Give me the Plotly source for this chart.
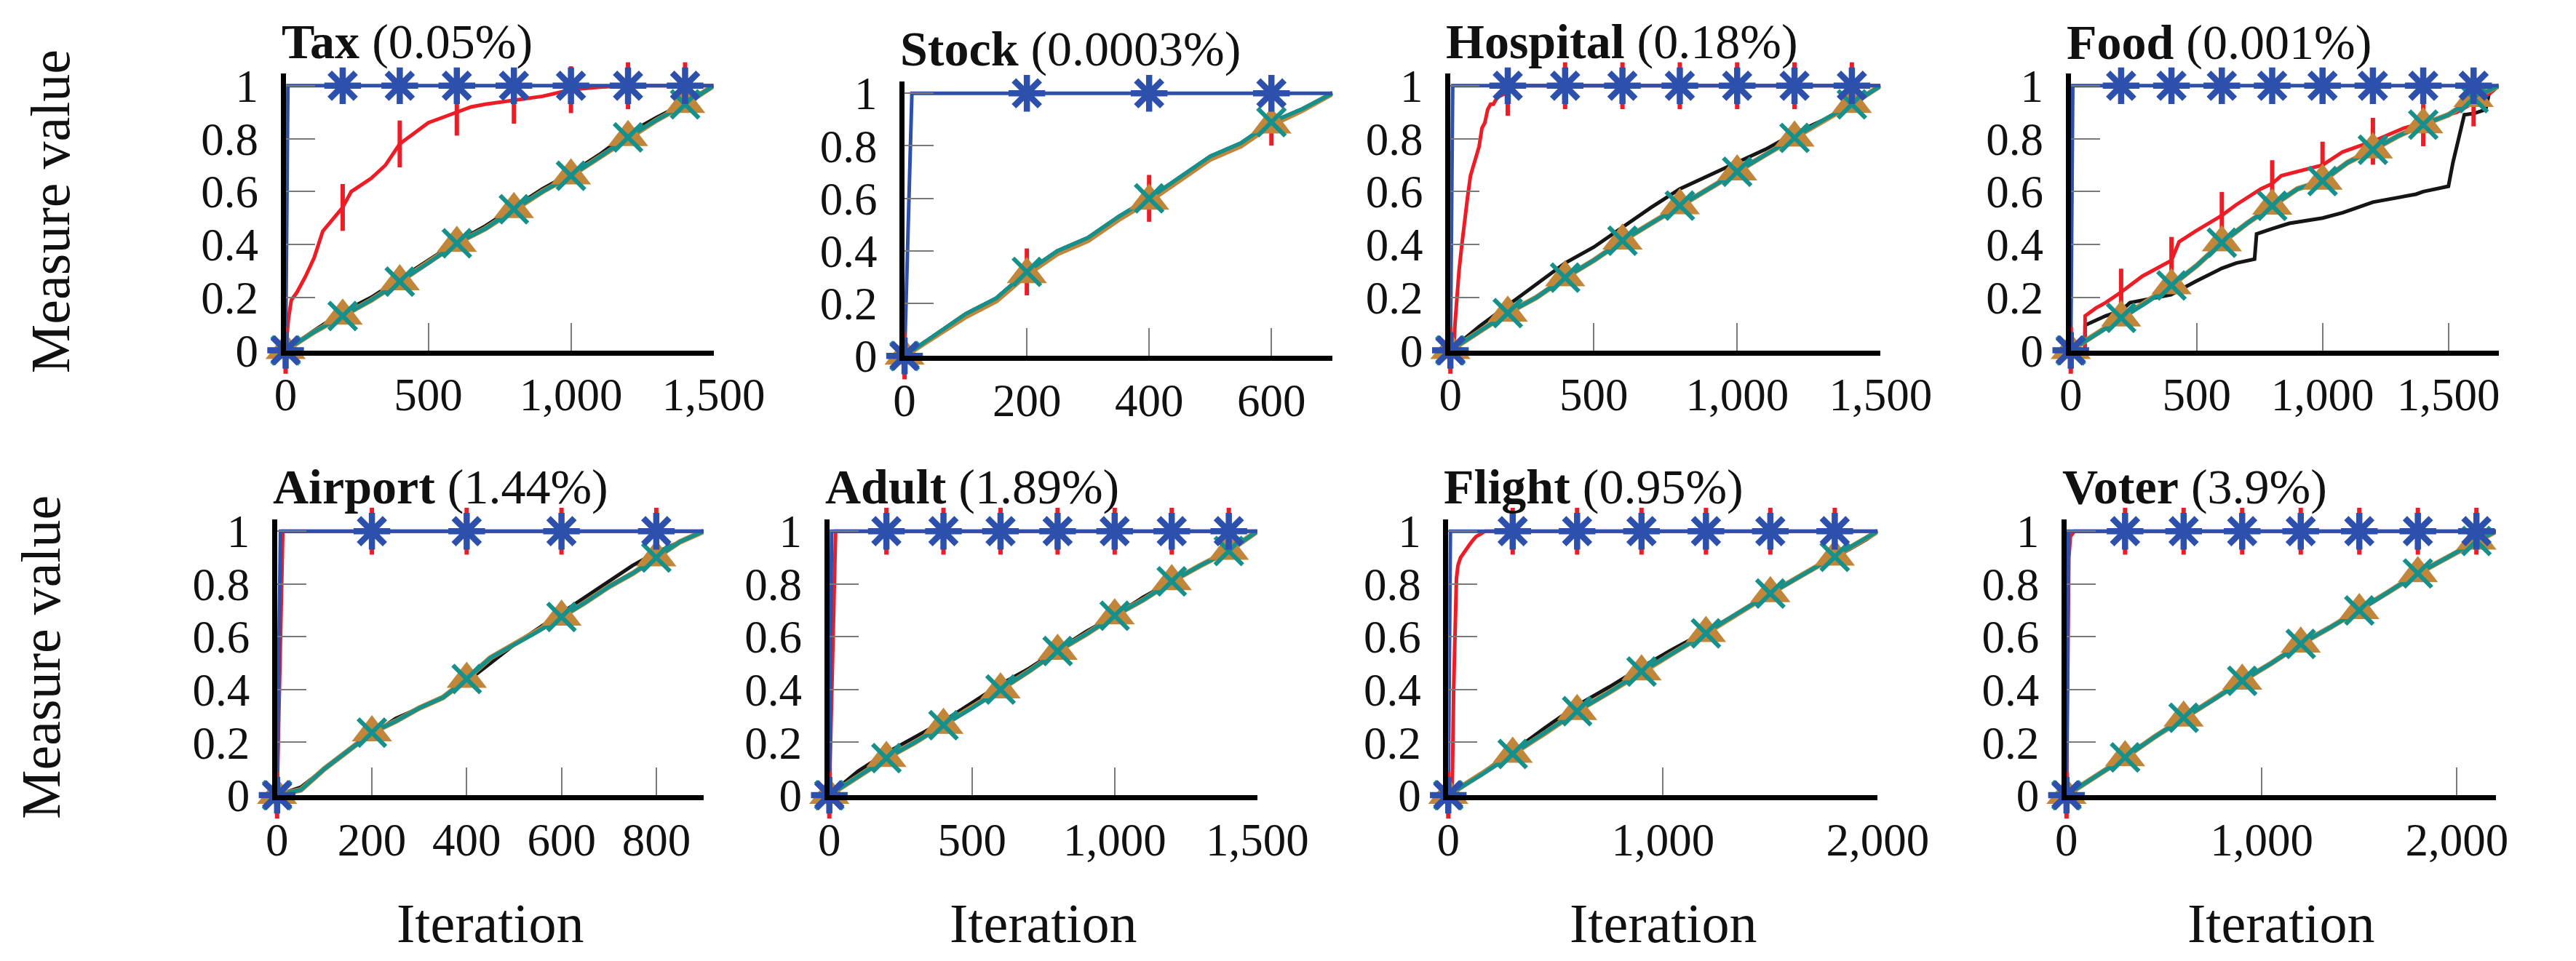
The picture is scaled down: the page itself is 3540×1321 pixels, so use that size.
import plotly.graph_objects as go

W, H = 3540, 1321
FONT = "Liberation Serif"

BLUE = "#2d50ad"
RED = "#ee1c25"
BLACK = "#151515"
ORANGE = "#c1863a"
TEAL = "#16908a"

# ---------------- panel meta ----------------
names = ["Tax", "Stock", "Hospital", "Food", "Airport", "Adult", "Flight", "Voter"]
rates = ["(0.05%)", "(0.0003%)", "(0.18%)", "(0.001%)", "(1.44%)", "(1.89%)", "(0.95%)", "(3.9%)"]
x_max = [1500, 700, 1500, 1700, 900, 1500, 2000, 2200]

y_ticks = [0, 0.2, 0.4, 0.6, 0.8, 1]
y_tick_text = ["0", "0.2", "0.4", "0.6", "0.8", "1"]

tax_ticks = [0, 500, 1000, 1500]
tax_tick_text = ["0", "500", "1,000", "1,500"]
stock_ticks = [0, 200, 400, 600]
stock_tick_text = ["0", "200", "400", "600"]
hospital_ticks = [0, 500, 1000, 1500]
hospital_tick_text = ["0", "500", "1,000", "1,500"]
food_ticks = [0, 500, 1000, 1500]
food_tick_text = ["0", "500", "1,000", "1,500"]
airport_ticks = [0, 200, 400, 600, 800]
airport_tick_text = ["0", "200", "400", "600", "800"]
adult_ticks = [0, 500, 1000, 1500]
adult_tick_text = ["0", "500", "1,000", "1,500"]
flight_ticks = [0, 1000, 2000]
flight_tick_text = ["0", "1,000", "2,000"]
voter_ticks = [0, 1000, 2000]
voter_tick_text = ["0", "1,000", "2,000"]

# marker positions (iterations)
tax_marks = [0, 200, 400, 600, 800, 1000, 1200, 1400]
stock_marks = [0, 200, 400, 600]
hospital_marks = [0, 200, 400, 600, 800, 1000, 1200, 1400]
food_marks = [0, 200, 400, 600, 800, 1000, 1200, 1400, 1600]
airport_marks = [0, 200, 400, 600, 800]
adult_marks = [0, 200, 400, 600, 800, 1000, 1200, 1400]
flight_marks = [0, 300, 600, 900, 1200, 1500, 1800]
voter_marks = [0, 300, 600, 900, 1200, 1500, 1800, 2100]

# ---------------- Tax ----------------
tax_blue_x = [0, 8, 200, 400, 600, 800, 1000, 1200, 1400, 1500]
tax_blue_y = [0, 1, 1, 1, 1, 1, 1, 1, 1, 1]
tax_red_x = [0, 10, 20, 40, 70, 100, 130, 160, 200, 230, 260, 300, 350, 400, 450, 500, 550,
             600, 650, 700, 800, 900, 1000, 1100, 1200, 1300, 1400, 1500]
tax_red_y = [0, 0.12, 0.19, 0.22, 0.28, 0.35, 0.45, 0.49, 0.54, 0.6, 0.62, 0.65, 0.7, 0.78,
             0.82, 0.86, 0.88, 0.9, 0.92, 0.93, 0.945, 0.96, 0.985, 0.995, 1.0, 1.0, 1.0, 1.0]
tax_black_x = [0, 100, 200, 300, 400, 500, 600, 700, 800, 900, 1000, 1100, 1200, 1300, 1400, 1500]
tax_black_y = [0, 0.075, 0.145, 0.2, 0.27, 0.34, 0.41, 0.47, 0.54, 0.61, 0.67, 0.74, 0.82, 0.88, 0.935, 1.0]
tax_orange_x = [0, 100, 200, 300, 400, 500, 600, 700, 800, 900, 1000, 1100, 1200, 1300, 1400, 1500]
tax_orange_y = [0, 0.07, 0.13, 0.19, 0.26, 0.33, 0.405, 0.46, 0.533, 0.6, 0.66, 0.73, 0.805, 0.87, 0.93, 1.0]
tax_teal_x = [0, 100, 200, 300, 400, 500, 600, 700, 800, 900, 1000, 1100, 1200, 1300, 1400, 1500]
tax_teal_y = [0, 0.07, 0.13, 0.19, 0.26, 0.33, 0.405, 0.46, 0.533, 0.6, 0.66, 0.73, 0.805, 0.87, 0.93, 1.0]

# ---------------- Stock ----------------
stock_blue_x = [0, 12, 200, 400, 600, 700]
stock_blue_y = [0, 1, 1, 1, 1, 1]
stock_red_x = [0, 50, 100, 150, 200, 250, 300, 350, 400, 450, 500, 550, 600, 650, 700]
stock_red_y = [0, 0.08, 0.16, 0.22, 0.32, 0.4, 0.45, 0.53, 0.6, 0.68, 0.76, 0.81, 0.89, 0.94, 1.0]
stock_black_x = [0, 50, 100, 150, 200, 250, 300, 350, 400, 450, 500, 550, 600, 650, 700]
stock_black_y = [0, 0.08, 0.16, 0.22, 0.32, 0.4, 0.45, 0.53, 0.6, 0.68, 0.76, 0.81, 0.89, 0.94, 1.0]
stock_orange_x = [0, 50, 100, 150, 200, 250, 300, 350, 400, 450, 500, 550, 600, 650, 700]
stock_orange_y = [0, 0.075, 0.15, 0.21, 0.31, 0.39, 0.44, 0.52, 0.59, 0.67, 0.75, 0.8, 0.88, 0.935, 1.0]
stock_teal_x = [0, 50, 100, 150, 200, 250, 300, 350, 400, 450, 500, 550, 600, 650, 700]
stock_teal_y = [0, 0.08, 0.16, 0.22, 0.32, 0.4, 0.45, 0.53, 0.6, 0.68, 0.76, 0.81, 0.89, 0.94, 1.0]

# ---------------- Hospital ----------------
hospital_blue_x = [0, 8, 200, 400, 600, 800, 1000, 1200, 1400, 1500]
hospital_blue_y = [0, 1, 1, 1, 1, 1, 1, 1, 1, 1]
hospital_red_x = [0, 12, 16, 20, 30, 40, 50, 60, 70, 80, 90, 100, 110, 120, 130, 140, 150, 160,
                  170, 180, 200, 220, 400, 600, 800, 1000, 1200, 1400, 1500]
hospital_red_y = [0, 0.0, 0.1, 0.17, 0.3, 0.4, 0.5, 0.58, 0.66, 0.7, 0.74, 0.77, 0.84, 0.86,
                  0.91, 0.93, 0.93, 0.95, 0.96, 0.965, 0.975, 1.0, 1, 1, 1, 1, 1, 1, 1]
hospital_black_x = [0, 100, 200, 300, 400, 500, 600, 700, 800, 900, 1000, 1100, 1200, 1300, 1400, 1500]
hospital_black_y = [0, 0.09, 0.17, 0.25, 0.33, 0.39, 0.465, 0.54, 0.61, 0.66, 0.71, 0.76, 0.82, 0.87, 0.93, 1.0]
hospital_orange_x = [0, 100, 200, 300, 400, 500, 600, 700, 800, 900, 1000, 1100, 1200, 1300, 1400, 1500]
hospital_orange_y = [0, 0.07, 0.141, 0.2, 0.275, 0.34, 0.414, 0.48, 0.547, 0.61, 0.675, 0.74, 0.803, 0.87, 0.93, 1.0]
hospital_teal_x = [0, 100, 200, 300, 400, 500, 600, 700, 800, 900, 1000, 1100, 1200, 1300, 1400, 1500]
hospital_teal_y = [0, 0.07, 0.141, 0.2, 0.275, 0.34, 0.414, 0.48, 0.547, 0.61, 0.675, 0.74, 0.803, 0.87, 0.93, 1.0]

# ---------------- Food ----------------
food_blue_x = [0, 8, 200, 400, 600, 800, 1000, 1200, 1400, 1600, 1700]
food_blue_y = [0, 1, 1, 1, 1, 1, 1, 1, 1, 1, 1]
food_red_x = [0, 56, 57, 100, 138, 200, 284, 365, 400, 430, 495, 600, 657, 755, 800, 836,
              1000, 1080, 1200, 1323, 1400, 1534, 1600, 1664, 1700]
food_red_y = [0, 0.0, 0.13, 0.16, 0.18, 0.22, 0.28, 0.32, 0.34, 0.41, 0.45, 0.51, 0.55, 0.61,
              0.63, 0.66, 0.70, 0.75, 0.79, 0.84, 0.86, 0.90, 0.935, 0.97, 1.0]
food_black_x = [0, 56, 57, 138, 200, 235, 398, 495, 600, 657, 730, 738, 800, 868, 1000, 1080,
                1200, 1371, 1400, 1500, 1518, 1542, 1563, 1600, 1648, 1661, 1700]
food_black_y = [0, 0.0, 0.095, 0.13, 0.15, 0.18, 0.21, 0.26, 0.31, 0.33, 0.345, 0.44, 0.46,
                0.48, 0.50, 0.52, 0.56, 0.59, 0.60, 0.62, 0.71, 0.80, 0.89, 0.895, 0.91, 0.97, 1.0]
food_orange_x = [0, 100, 200, 300, 400, 500, 600, 700, 800, 900, 1000, 1100, 1200, 1300, 1400, 1500, 1600, 1700]
food_orange_y = [0, 0.06, 0.123, 0.18, 0.245, 0.32, 0.407, 0.48, 0.546, 0.61, 0.64, 0.71, 0.758, 0.81, 0.853, 0.89, 0.953, 1.0]
food_teal_x = [0, 100, 200, 300, 400, 500, 600, 700, 800, 900, 1000, 1100, 1200, 1300, 1400, 1500, 1600, 1700]
food_teal_y = [0, 0.06, 0.123, 0.18, 0.245, 0.32, 0.407, 0.48, 0.546, 0.61, 0.64, 0.71, 0.758, 0.81, 0.853, 0.89, 0.953, 1.0]

# ---------------- Airport ----------------
airport_blue_x = [0, 7, 200, 400, 600, 800, 900]
airport_blue_y = [0, 1, 1, 1, 1, 1, 1]
airport_red_x = [0, 12, 200, 400, 600, 800, 900]
airport_red_y = [0, 1, 1, 1, 1, 1, 1]
airport_black_x = [0, 50, 100, 150, 200, 250, 300, 350, 400, 450, 500, 550, 600, 650, 700, 750, 800, 850, 900]
airport_black_y = [0, 0.03, 0.1, 0.17, 0.23, 0.29, 0.33, 0.37, 0.43, 0.5, 0.57, 0.63, 0.69, 0.75, 0.81, 0.87, 0.92, 0.96, 1.0]
airport_orange_x = [0, 50, 100, 150, 200, 250, 300, 350, 400, 450, 500, 550, 600, 650, 700, 750, 800, 850, 900]
airport_orange_y = [0, 0.02, 0.1, 0.17, 0.237, 0.28, 0.33, 0.37, 0.44, 0.52, 0.57, 0.62, 0.675, 0.73, 0.79, 0.84, 0.9, 0.96, 1.0]
airport_teal_x = [0, 50, 100, 150, 200, 250, 300, 350, 400, 450, 500, 550, 600, 650, 700, 750, 800, 850, 900]
airport_teal_y = [0, 0.02, 0.1, 0.17, 0.237, 0.28, 0.33, 0.37, 0.44, 0.52, 0.57, 0.62, 0.675, 0.73, 0.79, 0.84, 0.9, 0.96, 1.0]

# ---------------- Adult ----------------
adult_blue_x = [0, 8, 200, 400, 600, 800, 1000, 1200, 1400, 1500]
adult_blue_y = [0, 1, 1, 1, 1, 1, 1, 1, 1, 1]
adult_red_x = [0, 22, 200, 400, 600, 800, 1000, 1200, 1400, 1500]
adult_red_y = [0, 1, 1, 1, 1, 1, 1, 1, 1, 1]
adult_black_x = [0, 100, 200, 300, 400, 500, 600, 700, 800, 900, 1000, 1100, 1200, 1300, 1400, 1500]
adult_black_y = [0, 0.09, 0.16, 0.22, 0.28, 0.35, 0.42, 0.48, 0.55, 0.62, 0.68, 0.75, 0.81, 0.87, 0.93, 1.0]
adult_orange_x = [0, 100, 200, 300, 400, 500, 600, 700, 800, 900, 1000, 1100, 1200, 1300, 1400, 1500]
adult_orange_y = [0, 0.07, 0.14, 0.2, 0.265, 0.33, 0.4, 0.47, 0.546, 0.61, 0.68, 0.74, 0.81, 0.87, 0.925, 1.0]
adult_teal_x = [0, 100, 200, 300, 400, 500, 600, 700, 800, 900, 1000, 1100, 1200, 1300, 1400, 1500]
adult_teal_y = [0, 0.07, 0.14, 0.2, 0.265, 0.33, 0.4, 0.47, 0.546, 0.61, 0.68, 0.74, 0.81, 0.87, 0.925, 1.0]

# ---------------- Flight ----------------
flight_blue_x = [0, 10, 300, 600, 900, 1200, 1500, 1800, 2000]
flight_blue_y = [0, 1, 1, 1, 1, 1, 1, 1, 1]
flight_red_x = [0, 18, 25, 30, 38, 45, 57, 70, 85, 100, 114, 130, 152, 171, 300, 600, 900, 1200, 1500, 1800, 2000]
flight_red_y = [0, 0.0, 0.4, 0.6, 0.82, 0.87, 0.9, 0.915, 0.93, 0.95, 0.965, 0.98, 0.99, 1.0, 1, 1, 1, 1, 1, 1, 1]
flight_black_x = [0, 150, 300, 450, 600, 750, 900, 1050, 1200, 1350, 1500, 1650, 1800, 1950, 2000]
flight_black_y = [0, 0.08, 0.165, 0.255, 0.34, 0.41, 0.485, 0.555, 0.62, 0.69, 0.765, 0.835, 0.9, 0.97, 1.0]
flight_orange_x = [0, 150, 300, 450, 600, 750, 900, 1050, 1200, 1350, 1500, 1650, 1800, 1950, 2000]
flight_orange_y = [0, 0.075, 0.156, 0.235, 0.318, 0.39, 0.468, 0.54, 0.613, 0.69, 0.764, 0.835, 0.903, 0.975, 1.0]
flight_teal_x = [0, 150, 300, 450, 600, 750, 900, 1050, 1200, 1350, 1500, 1650, 1800, 1950, 2000]
flight_teal_y = [0, 0.075, 0.156, 0.235, 0.318, 0.39, 0.468, 0.54, 0.613, 0.69, 0.764, 0.835, 0.903, 0.975, 1.0]

# ---------------- Voter ----------------
voter_blue_x = [0, 10, 300, 600, 900, 1200, 1500, 1800, 2100, 2200]
voter_blue_y = [0, 1, 1, 1, 1, 1, 1, 1, 1, 1]
voter_red_x = [0, 12, 20, 40, 300, 600, 900, 1200, 1500, 1800, 2100, 2200]
voter_red_y = [0, 0.9, 0.98, 1.0, 1, 1, 1, 1, 1, 1, 1, 1]
voter_black_x = [0, 150, 300, 450, 600, 750, 900, 1050, 1200, 1350, 1500, 1650, 1800, 1950, 2100, 2200]
voter_black_y = [0, 0.07, 0.145, 0.22, 0.29, 0.36, 0.43, 0.5, 0.57, 0.635, 0.70, 0.77, 0.835, 0.9, 0.96, 1.0]
voter_orange_x = [0, 150, 300, 450, 600, 750, 900, 1050, 1200, 1350, 1500, 1650, 1800, 1950, 2100, 2200]
voter_orange_y = [0, 0.07, 0.143, 0.22, 0.293, 0.36, 0.433, 0.5, 0.573, 0.635, 0.70, 0.77, 0.84, 0.9, 0.963, 1.0]
voter_teal_x = [0, 150, 300, 450, 600, 750, 900, 1050, 1200, 1350, 1500, 1650, 1800, 1950, 2100, 2200]
voter_teal_y = [0, 0.07, 0.143, 0.22, 0.293, 0.36, 0.433, 0.5, 0.573, 0.635, 0.70, 0.77, 0.84, 0.9, 0.963, 1.0]

# ---------------- assemble ----------------
panels = [
    dict(ticks=tax_ticks, tt=tax_tick_text, marks=tax_marks,
         blue=(tax_blue_x, tax_blue_y), red=(tax_red_x, tax_red_y), black=(tax_black_x, tax_black_y),
         orange=(tax_orange_x, tax_orange_y), teal=(tax_teal_x, tax_teal_y)),
    dict(ticks=stock_ticks, tt=stock_tick_text, marks=stock_marks,
         blue=(stock_blue_x, stock_blue_y), red=(stock_red_x, stock_red_y), black=(stock_black_x, stock_black_y),
         orange=(stock_orange_x, stock_orange_y), teal=(stock_teal_x, stock_teal_y)),
    dict(ticks=hospital_ticks, tt=hospital_tick_text, marks=hospital_marks,
         blue=(hospital_blue_x, hospital_blue_y), red=(hospital_red_x, hospital_red_y),
         black=(hospital_black_x, hospital_black_y), orange=(hospital_orange_x, hospital_orange_y),
         teal=(hospital_teal_x, hospital_teal_y)),
    dict(ticks=food_ticks, tt=food_tick_text, marks=food_marks,
         blue=(food_blue_x, food_blue_y), red=(food_red_x, food_red_y), black=(food_black_x, food_black_y),
         orange=(food_orange_x, food_orange_y), teal=(food_teal_x, food_teal_y)),
    dict(ticks=airport_ticks, tt=airport_tick_text, marks=airport_marks,
         blue=(airport_blue_x, airport_blue_y), red=(airport_red_x, airport_red_y),
         black=(airport_black_x, airport_black_y), orange=(airport_orange_x, airport_orange_y),
         teal=(airport_teal_x, airport_teal_y)),
    dict(ticks=adult_ticks, tt=adult_tick_text, marks=adult_marks,
         blue=(adult_blue_x, adult_blue_y), red=(adult_red_x, adult_red_y), black=(adult_black_x, adult_black_y),
         orange=(adult_orange_x, adult_orange_y), teal=(adult_teal_x, adult_teal_y)),
    dict(ticks=flight_ticks, tt=flight_tick_text, marks=flight_marks,
         blue=(flight_blue_x, flight_blue_y), red=(flight_red_x, flight_red_y),
         black=(flight_black_x, flight_black_y), orange=(flight_orange_x, flight_orange_y),
         teal=(flight_teal_x, flight_teal_y)),
    dict(ticks=voter_ticks, tt=voter_tick_text, marks=voter_marks,
         blue=(voter_blue_x, voter_blue_y), red=(voter_red_x, voter_red_y), black=(voter_black_x, voter_black_y),
         orange=(voter_orange_x, voter_orange_y), teal=(voter_teal_x, voter_teal_y)),
]

# layout geometry (pixels)
x_px = [(386, 989), (1258, 1861), (2027, 2633), (2901, 3504),
        (374, 975), (1152, 1755), (2024, 2629), (2895, 3500)]
y_px = [(484, 88), (492, 99), (484, 88), (484, 88),
        (1121, 726), (1121, 726), (1121, 726), (1121, 726)]
title_y_px = [42, 52, 42, 43, 679, 679, 679, 679]
Y_TOP = 1.045

fig = go.Figure()
layout = dict(
    width=W, height=H, margin=dict(l=0, r=0, t=0, b=0),
    paper_bgcolor="white", plot_bgcolor="white", showlegend=False,
    font=dict(family=FONT, color="black"),
)
annotations = []

line_style = {
    "black": dict(color=BLACK, width=5),
    "red": dict(color=RED, width=5),
    "orange": dict(color=ORANGE, width=7.5),
    "teal": dict(color=TEAL, width=5.5),
    "blue": dict(color=BLUE, width=5),
}
marker_style = [
    ("red", dict(symbol="line-ns-open", size=46, color=RED, line=dict(color=RED, width=6))),
    ("orange", dict(symbol="triangle-up", size=48, color=ORANGE, line=dict(width=0))),
    ("teal", dict(symbol="x-thin-open", size=38, color=TEAL, line=dict(color=TEAL, width=6))),
    ("blue", dict(symbol="asterisk-open", size=42, color=BLUE, line=dict(color=BLUE, width=8.5))),
]

for i, p in enumerate(panels):
    k = "" if i == 0 else str(i + 1)
    xa, ya = "x" + k, "y" + k
    for s in ["black", "red", "orange", "teal", "blue"]:
        xs, ys = p[s]
        fig.add_trace(go.Scatter(x=xs, y=ys, mode="lines", line=line_style[s], xaxis=xa, yaxis=ya,
                                 cliponaxis=False, hoverinfo="skip"))
    marks = set(p["marks"])
    for s, ms in marker_style:
        xs, ys = p[s]
        mx = [x for x in xs if x in marks]
        my = [y for x, y in zip(xs, ys) if x in marks]
        fig.add_trace(go.Scatter(x=mx, y=my, mode="markers", marker=ms, xaxis=xa, yaxis=ya,
                                 cliponaxis=False, hoverinfo="skip"))

    x0, x1 = x_px[i]
    yb, yt = y_px[i]
    layout["xaxis" + k] = dict(
        domain=[x0 / W, x1 / W], range=[0, x_max[i]], anchor=ya,
        showline=True, linecolor="black", linewidth=7,
        ticks="inside", ticklen=38, tickwidth=1.5, tickcolor="#7a7a7a",
        tickvals=p["ticks"], ticktext=p["tt"], showgrid=False, zeroline=False,
        tickfont=dict(family=FONT, size=63, color="#111"), ticklabelstandoff=0,
    )
    layout["yaxis" + k] = dict(
        domain=[1 - yb / H, 1 - yt / H], range=[0, Y_TOP], anchor=xa,
        showline=True, linecolor="black", linewidth=7,
        ticks="inside", ticklen=40, tickwidth=1.5, tickcolor="#7a7a7a",
        tickvals=y_ticks, ticktext=y_tick_text, showgrid=False, zeroline=False,
        tickfont=dict(family=FONT, size=63, color="#111"), ticklabelstandoff=18,
    )
    annotations.append(dict(
        text="<b>" + names[i] + "</b> " + rates[i], xref="paper", yref="paper",
        x=(x0 - 8) / W, y=1 - title_y_px[i] / H, xanchor="left", yanchor="middle",
        showarrow=False, font=dict(family=FONT, size=68, color="#111"),
    ))

for yc, xc in [(285, 54), (923, 41)]:
    annotations.append(dict(
        text="Measure value", xref="paper", yref="paper", x=xc / W, y=1 - yc / H,
        xanchor="center", yanchor="middle", textangle=-90, showarrow=False,
        font=dict(family=FONT, size=76, color="#111"),
    ))
for i in range(4, 8):
    x0, x1 = x_px[i]
    annotations.append(dict(
        text="Iteration", xref="paper", yref="paper", x=(x0 + x1) / 2 / W, y=1 - 1304 / H,
        xanchor="center", yanchor="middle", showarrow=False,
        font=dict(family=FONT, size=76, color="#111"),
    ))

layout["annotations"] = annotations
fig.update_layout(**layout)
fig.write_html("out.html")
